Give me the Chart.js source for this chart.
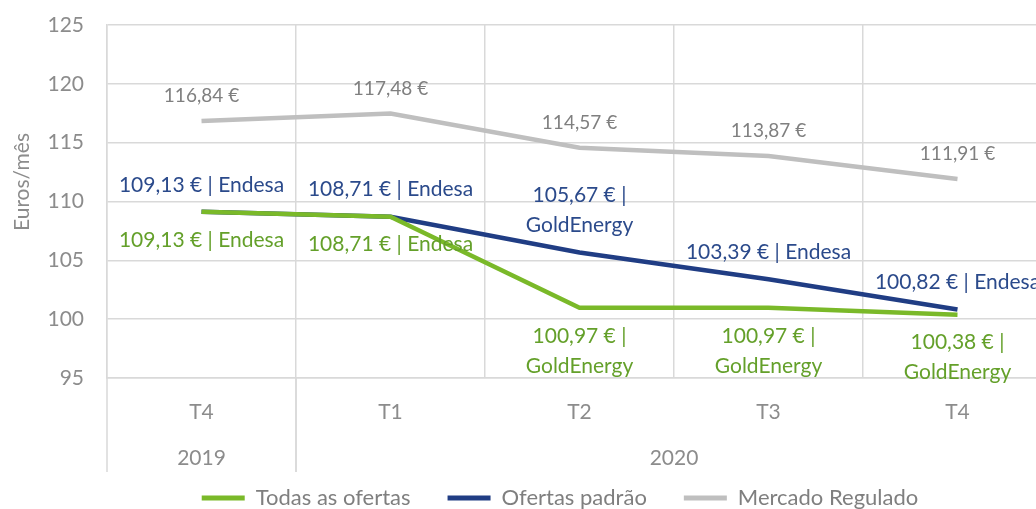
<!DOCTYPE html>
<html>
<head>
<meta charset="utf-8">
<script src="https://cdn.jsdelivr.net/npm/chart.js@4.4.0/dist/chart.umd.min.js"></script>
<style>
  html, body { margin: 0; padding: 0; background: #fff; overflow: hidden; }
  #wrap { position: relative; width: 1052px; height: 519px; }
</style>
</head>
<body>
<div id="wrap"><canvas id="priceChart"></canvas></div>
<script>
const quarters = ['T4', 'T1', 'T2', 'T3', 'T4'];
const years = ['2019', '2020'];
const yearSpans = [[0, 0], [1, 4]];
const yTicks = { min: 95, max: 125, step: 5 };

const allOffers = [109.13, 108.71, 100.97, 100.97, 100.38];
const allOffersSuppliers = ['Endesa', 'Endesa', 'GoldEnergy', 'GoldEnergy', 'GoldEnergy'];
const standardOffers = [109.13, 108.71, 105.67, 103.39, 100.82];
const standardSuppliers = ['Endesa', 'Endesa', 'GoldEnergy', 'Endesa', 'Endesa'];
const regulated = [116.84, 117.48, 114.57, 113.87, 111.91];

const FONT = 'Lato, "Noto Sans", sans-serif';
const gridColor = '#d9d9d9';
const axisText = '#8c8c8c';

const euro = v => v.toFixed(2).replace('.', ',') + ' €';

// data labels next to each point (no datalabels plugin offline)
const pointLabels = {
  id: 'pointLabels',
  afterDatasetsDraw(chart) {
    const ctx = chart.ctx;
    const xs = chart.scales.x;
    const catWidth = xs.getPixelForValue(1) - xs.getPixelForValue(0);
    chart.data.datasets.forEach((ds, i) => {
      const opt = ds.pointLabel;
      const meta = chart.getDatasetMeta(i);
      ctx.save();
      ctx.font = opt.font;
      ctx.fillStyle = opt.color;
      ctx.textAlign = 'center';
      ctx.textBaseline = 'middle';
      meta.data.forEach((pt, j) => {
        const text = opt.text(j);
        let lines = [text];
        const k = text.indexOf(' | ');
        if (k > 0 && ctx.measureText(text).width > catWidth - 4) {
          lines = [text.slice(0, k + 2), text.slice(k + 3)];
        }
        lines.forEach((ln, n) => {
          const y = opt.position === 'above'
            ? pt.y - opt.offset - (lines.length - 1 - n) * opt.lineHeight
            : pt.y + opt.offset + n * opt.lineHeight;
          ctx.fillText(ln, pt.x, y);
        });
      });
      ctx.restore();
    });
  }
};

// second category row (years) + y axis title
const yearRow = {
  id: 'yearRow',
  afterLayout(chart) {
    // legend is centred on the wider original chart
    chart.legend.left += 34;
    chart.legend.right += 34;
  },
  afterDraw(chart) {
    const { ctx, chartArea, scales: { x } } = chart;
    const half = (x.getPixelForValue(1) - x.getPixelForValue(0)) / 2;
    const top = chartArea.bottom;
    ctx.save();
    ctx.strokeStyle = gridColor;
    ctx.lineWidth = 1.5;
    ctx.fillStyle = axisText;
    ctx.font = '21px ' + FONT;
    ctx.textAlign = 'center';
    ctx.textBaseline = 'middle';
    yearSpans.forEach(([a, b], i) => {
      const left = x.getPixelForValue(a) - half;
      const right = x.getPixelForValue(b) + half;
      [left, right].forEach(px => {
        ctx.beginPath();
        ctx.moveTo(px, top);
        ctx.lineTo(px, top + 94);
        ctx.stroke();
      });
      ctx.fillText(years[i], (left + right) / 2, top + 80);
    });
    ctx.translate(chartArea.left - 85, chartArea.top + 157);
    ctx.rotate(-Math.PI / 2);
    ctx.fillText('Euros/mês', 0, 0);
    ctx.restore();
  }
};

const ctx = document.getElementById('priceChart');
const priceChart = new Chart(ctx, {
  type: 'line',
  data: {
    labels: quarters,
    datasets: [{
      label: 'Todas as ofertas',
      data: allOffers,
      borderColor: '#7ab929',
      backgroundColor: '#7ab929',
      borderWidth: 4.5,
      pointRadius: 0,
      pointLabel: {
        position: 'below', offset: 28, lineHeight: 30,
        font: '21px ' + FONT, color: '#64a02a',
        text: j => euro(allOffers[j]) + ' | ' + allOffersSuppliers[j]
      }
    }, {
      label: 'Ofertas padrão',
      data: standardOffers,
      borderColor: '#203d84',
      backgroundColor: '#203d84',
      borderWidth: 4.5,
      pointRadius: 0,
      pointLabel: {
        position: 'above', offset: 27, lineHeight: 30,
        font: '21px ' + FONT, color: '#2b4a8b',
        text: j => euro(standardOffers[j]) + ' | ' + standardSuppliers[j]
      }
    }, {
      label: 'Mercado Regulado',
      data: regulated,
      borderColor: '#bfbfbf',
      backgroundColor: '#bfbfbf',
      borderWidth: 4.5,
      pointRadius: 0,
      pointLabel: {
        position: 'above', offset: 25, lineHeight: 30,
        font: '19px ' + FONT, color: '#7f7f7f',
        text: j => euro(regulated[j])
      }
    }]
  },
  options: {
    responsive: true,
    maintainAspectRatio: false,
    animation: false,
    layout: { padding: { top: 25, left: 0, right: 0, bottom: 0 } },
    plugins: {
      tooltip: { enabled: false },
      legend: {
        position: 'bottom',
        labels: {
          boxWidth: 43,
          boxHeight: 5,
          padding: 37,
          color: axisText,
          font: { family: FONT, size: 22 },
          generateLabels: chart => chart.data.datasets.map((ds, i) => ({
            text: ds.label,
            fillStyle: ds.borderColor,
            strokeStyle: ds.borderColor,
            lineWidth: 0,
            fontColor: '#7f7f7f',
            datasetIndex: i
          }))
        }
      }
    },
    scales: {
      x: {
        offset: true,
        grid: { color: gridColor, lineWidth: 1.5, offset: true, drawTicks: false },
        border: { color: gridColor, width: 1.5 },
        ticks: { color: axisText, font: { family: FONT, size: 21 }, padding: 22 },
        afterFit: s => { s.height = 72; }
      },
      y: {
        min: yTicks.min,
        max: yTicks.max,
        grid: { color: gridColor, lineWidth: 1.5, drawTicks: false },
        border: { color: gridColor, width: 1.5 },
        ticks: { stepSize: yTicks.step, color: axisText, font: { family: FONT, size: 21 }, padding: 23 },
        afterFit: s => {
          s.width = 107;
          s.paddingTop = 0;
          s.paddingBottom = 0;
        }
      }
    }
  },
  plugins: [pointLabels, yearRow]
});
</script>
</body>
</html>
